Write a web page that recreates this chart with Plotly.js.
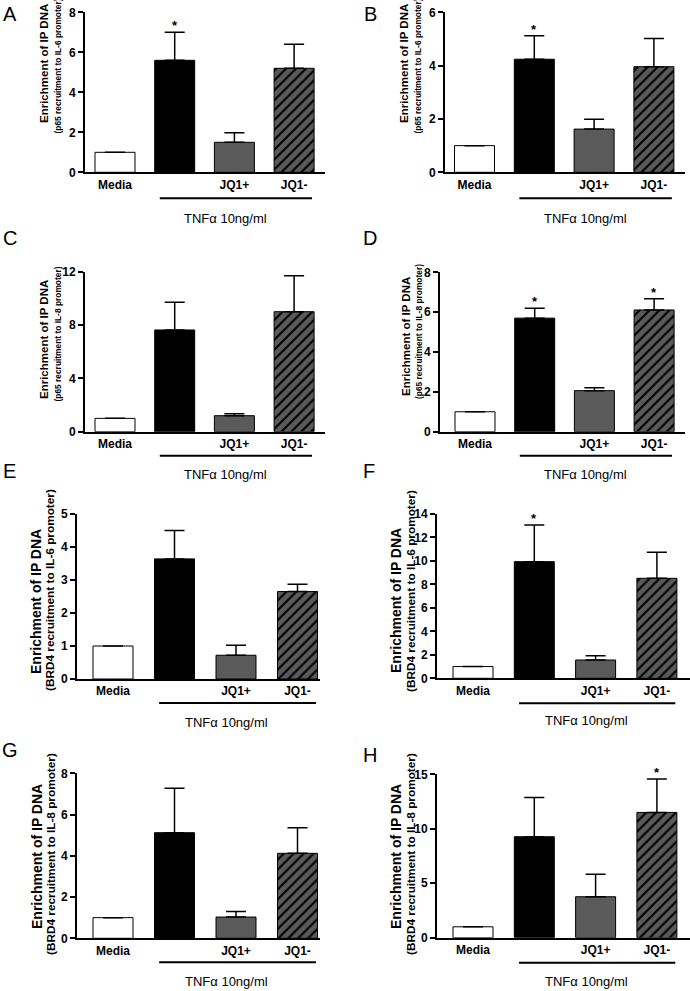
<!DOCTYPE html>
<html>
<head>
<meta charset="utf-8">
<script src="https://cdn.plot.ly/plotly-3.0.1.min.js"></script>
<style>
  html, body { margin: 0; padding: 0; background: #fff; }
  #chart { width: 690px; height: 991px; }
</style>
</head>
<body>
<div id="chart"></div>
<script>
// ChIP enrichment panels A-H
const categories = ['Media', 'TNFa', 'JQ1+', 'JQ1-'];
const tickLabels = ['Media', '', 'JQ1+', 'JQ1-'];
const barColors = ['#ffffff', '#000000', '#5a5a5a', '#5a5a5a'];
const barHatched = [false, false, false, true];

// mean enrichment and SEM per panel
const meanA = [1, 5.6, 1.5, 5.2];
const semA = [0, 1.4, 0.48, 1.2];
const meanB = [1, 4.24, 1.62, 3.96];
const semB = [0, 0.88, 0.37, 1.06];
const meanC = [1, 7.63, 1.2, 9.0];
const semC = [0, 2.07, 0.15, 2.7];
const meanD = [1, 5.7, 2.06, 6.11];
const semD = [0, 0.5, 0.15, 0.56];
const meanE = [1, 3.64, 0.72, 2.65];
const semE = [0, 0.86, 0.3, 0.22];
const meanF = [1, 9.94, 1.56, 8.52];
const semF = [0, 3.13, 0.37, 2.22];
const meanG = [1, 5.12, 1.03, 4.12];
const semG = [0, 2.15, 0.27, 1.24];
const meanH = [1, 9.27, 3.76, 11.5];
const semH = [0, 3.59, 2.06, 3.07];

// significance stars
const starA = [false, true, false, false];
const starB = [false, true, false, false];
const starC = [false, false, false, false];
const starD = [false, true, false, true];
const starE = [false, false, false, false];
const starF = [false, true, false, false];
const starG = [false, false, false, false];
const starH = [false, false, false, true];

const yTicksA = [0, 2, 4, 6, 8];
const yTicksB = [0, 2, 4, 6];
const yTicksC = [0, 4, 8, 12];
const yTicksD = [0, 2, 4, 6, 8];
const yTicksE = [0, 1, 2, 3, 4, 5];
const yTicksF = [0, 2, 4, 6, 8, 10, 12, 14];
const yTicksG = [0, 2, 4, 6, 8];
const yTicksH = [0, 5, 10, 15];

const yTitle1 = 'Enrichment of IP DNA';
const yTitle2A = '(p65 recruitment to IL-6 promoter)';
const yTitle2C = '(p65 recruitment to IL-8 promoter)';
const yTitle2E = '(BRD4 recruitment to IL-6 promoter)';
const yTitle2G = '(BRD4 recruitment to IL-8 promoter)';
const groupLabel = 'TNF\u03b1 10ng/ml';

const W = 690, H = 991;
const px = v => v / W;
const py = v => 1 - v / H;

const FONT = 'Liberation Sans, Arial, sans-serif';

// pixel frame of every panel
const panels = [
    {L: 'A', mean: meanA, sem: semA, star: starA, ticks: yTicksA, t2: yTitle2A, xl: 85, xr: 325, yt: 12.3, yb: 172.3, c0: 115, pitch: 59.7, lx: 10, ly: 14, t1x: 44, t2x: 57.5, t1y: 64, t2y: 66, small: true, gap: 26, tgap: 46},
    {L: 'B', mean: meanB, sem: semB, star: starB, ticks: yTicksB, t2: yTitle2A, xl: 445, xr: 685, yt: 12.3, yb: 172.3, c0: 474.5, pitch: 59.8, lx: 370, ly: 14, t1x: 404, t2x: 417.5, t1y: 64, t2y: 66, small: true, gap: 26, tgap: 46},
    {L: 'C', mean: meanC, sem: semC, star: starC, ticks: yTicksC, t2: yTitle2C, xl: 85, xr: 325, yt: 271.7, yb: 431.7, c0: 115, pitch: 59.7, lx: 10, ly: 238, t1x: 44, t2x: 57.5, t1y: 340, t2y: 334, small: true, gap: 24, tgap: 43},
    {L: 'D', mean: meanD, sem: semD, star: starD, ticks: yTicksD, t2: yTitle2C, xl: 440, xr: 685, yt: 272.3, yb: 431.7, c0: 475, pitch: 59.7, lx: 370, ly: 238, t1x: 406, t2x: 419, t1y: 337, t2y: 332, small: true, gap: 24, tgap: 43},
    {L: 'E', mean: meanE, sem: semE, star: starE, ticks: yTicksE, t2: yTitle2E, xl: 77, xr: 320, yt: 514, yb: 679, c0: 113, pitch: 61.5, lx: 9, ly: 471, t1x: 36, t2x: 50, t1y: 602, t2y: 590, small: false, gap: 24, tgap: 43},
    {L: 'F', mean: meanF, sem: semF, star: starF, ticks: yTicksF, t2: yTitle2E, xl: 437, xr: 690, yt: 514, yb: 678.3, c0: 473, pitch: 61.3, lx: 369, ly: 471, t1x: 396, t2x: 411, t1y: 601, t2y: 591, small: false, gap: 25, tgap: 42},
    {L: 'G', mean: meanG, sem: semG, star: starG, ticks: yTicksG, t2: yTitle2G, xl: 77, xr: 320, yt: 773.3, yb: 938.3, c0: 113, pitch: 61.5, lx: 10, ly: 750, t1x: 37, t2x: 51, t1y: 857, t2y: 854, small: false, gap: 24, tgap: 43},
    {L: 'H', mean: meanH, sem: semH, star: starH, ticks: yTicksH, t2: yTitle2G, xl: 437, xr: 690, yt: 774.3, yb: 937.7, c0: 473, pitch: 61.3, lx: 370, ly: 755, t1x: 396, t2x: 411, t1y: 857, t2y: 854, small: false, gap: 25, tgap: 44}
];

const traces = [];
const layout = {
    width: W,
    height: H,
    margin: {l: 0, r: 0, t: 0, b: 0},
    paper_bgcolor: '#fff',
    plot_bgcolor: 'rgba(0,0,0,0)',
    showlegend: false,
    barmode: 'overlay',
    font: {family: FONT, color: '#000'},
    annotations: [],
    shapes: []
};

// pick the entries of arr where keep[k] is true
const pick = (arr, keep) => arr.filter((v, k) => keep[k]);

panels.forEach((p, i) => {
    const n = i + 1;
    const sfx = n === 1 ? '' : String(n);
    const xa = 'x' + sfx;
    const ya = 'y' + sfx;
    const top = p.mean.map((m, k) => m + p.sem[k]);
    // category position -> fraction of x domain
    const xdom = k => (p.c0 + k * p.pitch - p.xl) / (p.xr - p.xl);
    const ydomPx = d => -d / (p.yb - p.yt);
    const solid = barHatched.map(h => !h);

    const errBar = sem => ({
        type: 'data',
        symmetric: false,
        array: sem,
        arrayminus: sem.map(() => 0),
        color: '#000',
        thickness: 1.5,
        width: 10,
        visible: true
    });

    // plain bars (Media, TNF, JQ1+)
    traces.push({
        type: 'bar',
        x: pick(categories, solid),
        y: pick(p.mean, solid),
        xaxis: xa,
        yaxis: ya,
        width: 40 / p.pitch,
        marker: {color: pick(barColors, solid), line: {color: '#000', width: 1}},
        error_y: errBar(pick(p.sem, solid)),
        hoverinfo: 'skip'
    });
    // hatched bar (JQ1-): scalar colour so the pattern colours are honoured
    traces.push({
        type: 'bar',
        x: pick(categories, barHatched),
        y: pick(p.mean, barHatched),
        xaxis: xa,
        yaxis: ya,
        width: 40 / p.pitch,
        marker: {
            color: pick(barColors, barHatched)[0],
            line: {color: '#000', width: 1},
            pattern: {shape: '/', fgcolor: '#000', fgopacity: 1, size: 7, solidity: 0.3, fillmode: 'overlay'}
        },
        error_y: errBar(pick(p.sem, barHatched)),
        hoverinfo: 'skip'
    });

    layout['xaxis' + sfx] = {
        domain: [px(p.xl), px(p.xr)],
        anchor: ya,
        type: 'category',
        categoryorder: 'array',
        categoryarray: categories,
        range: [(p.xl - p.c0) / p.pitch, (p.xr - p.c0) / p.pitch],
        tickvals: categories,
        ticktext: tickLabels,
        ticks: '',
        showline: true,
        linecolor: '#000',
        linewidth: 2,
        showgrid: false,
        zeroline: false,
        fixedrange: true,
        tickfont: {family: FONT, size: 12, weight: 'bold', color: '#000'}
    };
    layout['yaxis' + sfx] = {
        domain: [py(p.yb), py(p.yt)],
        anchor: xa,
        range: [0, p.ticks[p.ticks.length - 1]],
        tickvals: p.ticks,
        ticks: 'outside',
        ticklen: 5,
        tickwidth: 2,
        tickcolor: '#000',
        showline: true,
        linecolor: '#000',
        linewidth: 2,
        showgrid: false,
        zeroline: false,
        fixedrange: true,
        tickfont: {family: FONT, size: 12, weight: 'bold', color: '#000'}
    };

    // panel letter
    layout.annotations.push({
        xref: 'paper', yref: 'paper', x: px(p.lx), y: py(p.ly),
        text: p.L, showarrow: false, xanchor: 'center', yanchor: 'middle',
        font: {family: FONT, size: 20, color: '#000'}
    });
    // y titles (two lines, rotated)
    layout.annotations.push({
        xref: 'paper', yref: 'paper', x: px(p.t1x), y: py(p.t1y),
        text: yTitle1, showarrow: false, textangle: -90, xanchor: 'center', yanchor: 'middle',
        font: {family: FONT, size: p.small ? 11.5 : 14, weight: 'bold', color: '#000'}
    });
    layout.annotations.push({
        xref: 'paper', yref: 'paper', x: px(p.t2x), y: py(p.t2y),
        text: p.t2, showarrow: false, textangle: -90, xanchor: 'center', yanchor: 'middle',
        font: {family: FONT, size: p.small ? 8.4 : 11.8, weight: 'bold', color: '#000'}
    });
    // TNF group bracket (domain refs so it is not clipped) and label
    layout.shapes.push({
        type: 'line', xref: xa + ' domain', yref: ya + ' domain',
        x0: xdom(0.75), x1: xdom(3.3), y0: ydomPx(p.gap), y1: ydomPx(p.gap),
        line: {color: '#000', width: 2}
    });
    layout.annotations.push({
        xref: xa, yref: ya, x: 1.85, y: 0, yshift: -p.tgap,
        text: groupLabel, showarrow: false, xanchor: 'center', yanchor: 'middle',
        font: {family: FONT, size: 13, color: '#000'}
    });
    // stars
    p.star.forEach((s, k) => {
        if (!s) return;
        layout.annotations.push({
            xref: xa, yref: ya, x: k, y: top[k], yshift: -3,
            text: '*', showarrow: false, xanchor: 'center', yanchor: 'bottom',
            font: {family: FONT, size: 13, weight: 'bold', color: '#000'}
        });
    });
});

Plotly.newPlot('chart', traces, layout, {displayModeBar: false, staticPlot: true});
</script>
</body>
</html>
